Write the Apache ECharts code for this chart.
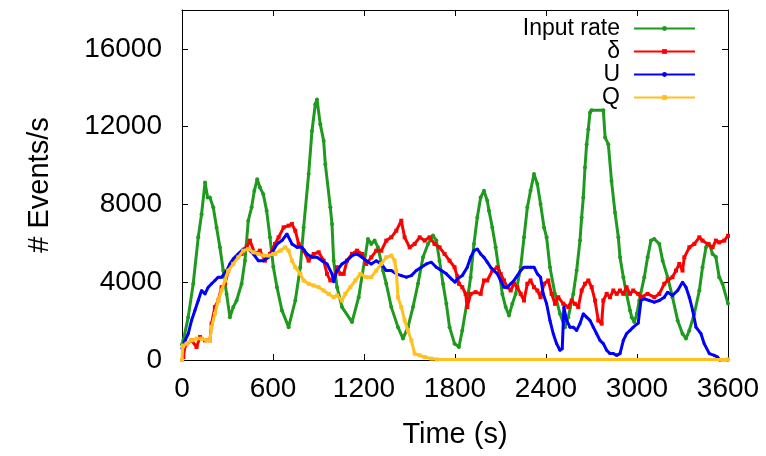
<!DOCTYPE html>
<html>
<head>
<meta charset="utf-8">
<script src="https://cdn.jsdelivr.net/npm/echarts@6/dist/echarts.min.js"></script>
<style>html,body{margin:0;padding:0;background:#fff}#c{width:766px;height:456px}</style>
</head>
<body>
<div id="c"></div>
<script>
// X axis ticks (time, s) and Y axis ticks (# events/s)
const xTicks = [0, 600, 1200, 1800, 2400, 3000, 3600];
const yTicks = [0, 4000, 8000, 12000, 16000];
const yMax = 18000;
const seriesNames = ['Input rate', 'δ', 'U', 'Q'];

// Input rate
const inputT = [0,9,41,74,107,129,152,169,184,206,228,250,272,294,316,338,360,393,415,437,459,477,496,514,536,558,580,602,626,659,703,747,780,802,835,857,879,890,912,934,945,978,989,1000,1022,1055,1121,1165,1226,1248,1270,1292,1325,1347,1380,1424,1457,1490,1523,1556,1589,1622,1655,1677,1698,1721,1743,1764,1797,1826,1848,1881,1903,1925,1947,1969,1991,2013,2024,2046,2068,2090,2112,2134,2156,2178,2200,2233,2255,2277,2298,2321,2343,2364,2387,2404,2426,2459,2492,2525,2547,2580,2602,2624,2635,2646,2657,2668,2679,2690,2700,2778,2790,2811,2832,2855,2877,2888,2910,2931,2954,2965,2982,3000,3015,3048,3070,3092,3114,3147,3169,3202,3234,3268,3300,3323,3345,3378,3411,3432,3455,3477,3498,3520,3542,3564,3600];
const inputV = [800,1010,2205,3920,6310,7500,9130,8360,8360,7850,6820,5795,4600,3400,2205,2720,3060,3920,5110,7165,7850,8700,9300,8870,8530,7680,6310,4800,3745,2550,1690,3060,4770,6820,9560,11780,13150,13400,12120,11270,10070,7850,6990,5110,3745,2720,1950,3230,6225,5970,6140,5795,4600,3920,2720,1690,1100,1690,2720,3920,5280,5970,6400,6140,5110,3920,2890,1690,840,670,1520,3060,4260,5970,7330,8360,8700,8190,7680,6820,5795,4600,3400,2720,2290,2890,3400,4770,6310,7850,8700,9560,9050,8020,6820,6310,4770,3400,2380,1690,2205,3400,4600,6140,7330,8360,9900,11100,11870,12720,12840,12840,11440,11100,9200,7590,6310,5280,4260,3400,2550,2200,1950,2400,3060,4260,5280,6140,6225,5970,5110,4260,3230,2035,1350,1100,1520,2380,3575,4770,5795,5970,5455,5300,4260,3920,2900];

// delta
const deltaT = [0,9,20,63,96,119,152,184,195,217,239,261,283,305,327,360,393,426,448,481,514,547,580,613,637,670,703,725,747,769,802,835,868,901,934,956,978,1000,1022,1044,1066,1088,1121,1154,1187,1215,1248,1281,1314,1347,1380,1413,1446,1468,1501,1534,1567,1600,1632,1665,1698,1731,1764,1797,1815,1826,1848,1870,1881,1903,1936,1969,1991,2013,2046,2079,2101,2123,2145,2167,2189,2211,2233,2255,2277,2298,2321,2343,2364,2387,2415,2437,2459,2481,2514,2547,2569,2591,2613,2635,2657,2679,2701,2723,2745,2767,2778,2800,2822,2844,2866,2888,2910,2931,2954,2975,3008,3026,3070,3114,3147,3180,3202,3234,3257,3279,3300,3312,3345,3378,3411,3432,3465,3498,3520,3542,3575,3600];
const deltaV = [0,150,750,1010,670,1180,1010,1010,1870,2720,3060,3745,3920,4600,4940,5280,5455,5795,6140,5455,5625,5110,5455,5970,6310,6820,6910,6990,6650,5970,5625,5110,5455,5540,5110,4430,4090,4090,4770,4430,4430,5110,5455,5625,5455,4940,5280,5625,5625,6140,6310,6650,7165,6310,5795,5970,6310,6140,6310,5970,5795,5455,5110,4770,4300,3920,3745,3400,2720,3400,3490,3400,4090,4090,4600,4770,4430,4090,3745,3575,3920,3745,3400,3060,3920,4090,3745,3575,3230,3920,4090,3400,2890,3230,2890,2720,3060,2890,2720,3575,3920,4090,3745,3060,2035,1870,3060,3400,3230,3575,3400,3575,3400,3745,3400,3575,3400,3230,3400,3230,3400,3920,4090,4260,4600,4940,4600,5280,5795,5970,6310,6140,5970,5795,6140,6050,6140,6390];

// U
const uT = [0,20,41,63,85,107,129,152,173,195,217,239,261,294,316,338,371,404,437,470,503,536,569,602,626,659,692,725,758,791,824,857,890,923,956,989,1000,1022,1055,1088,1121,1154,1187,1215,1248,1281,1314,1347,1380,1413,1446,1479,1512,1545,1578,1611,1644,1677,1710,1743,1776,1800,1815,1848,1881,1903,1925,1947,1969,1991,2013,2035,2057,2079,2101,2123,2145,2167,2189,2211,2233,2255,2277,2298,2321,2343,2364,2382,2404,2426,2448,2470,2492,2507,2518,2536,2558,2580,2602,2624,2646,2668,2690,2712,2734,2756,2778,2800,2822,2844,2866,2888,2910,2931,2954,2975,3008,3026,3048,3081,3114,3147,3180,3202,3234,3268,3300,3323,3345,3367,3389,3422,3443,3477,3509,3531,3545,3600];
const uV = [600,1000,1350,2035,2550,3060,3575,3400,3745,3920,4090,4260,4260,4600,4940,5200,5455,5710,5710,5455,5110,5110,5280,5625,5970,6140,6480,5970,5795,5795,5455,5280,5280,5110,4940,4430,4030,4600,4940,5110,5370,5455,5280,5110,4940,5110,4940,4600,4600,4430,4340,4260,4340,4600,4770,4940,5030,4770,4600,4430,4170,4000,4170,4340,4770,5280,5625,5710,5455,5280,5030,4770,4600,4430,4090,3745,3745,3920,4090,4340,4600,4770,4770,4770,4770,4430,4260,3400,2890,2035,1350,840,500,585,2720,2035,1690,1690,1520,1870,2380,2205,2035,1690,1350,1010,840,500,330,330,240,330,1010,1350,1520,1690,1900,3060,3150,3060,2975,3060,3230,3490,3320,3575,4000,3745,3230,2550,1690,1350,840,330,240,150,0,0];

// Q
const qT = [0,5,9,30,63,96,129,162,184,195,217,239,261,283,305,338,371,404,437,470,503,536,569,602,615,648,681,703,725,747,780,802,835,868,901,934,967,1000,1022,1055,1077,1110,1143,1176,1215,1248,1281,1314,1347,1380,1402,1413,1424,1446,1468,1490,1512,1534,1567,1600,1644,1680,3600];
const qV = [0,700,750,840,1010,1100,1100,1010,1010,1690,2380,3060,3575,4090,4600,4940,5280,5625,5710,5540,5455,5370,5370,5455,5455,5625,5795,5625,5110,4770,4430,4090,3920,3830,3745,3575,3400,3230,3320,3060,3400,3745,4090,4430,4260,4260,4600,4940,5280,5370,5110,4600,3230,2720,2035,1520,1010,330,240,150,70,30,30];

const zip = (t, v) => t.map((x, i) => [x, v[i]]);
const font = '"Liberation Sans", Arial, Helvetica, sans-serif';

const colors = ['#1f9a1f', '#ff0000', '#0000ff', '#ffc020'];
const symbols = ['circle', 'rect', 'circle', 'rect'];
const symSizes = [4, 4, 3, 4];
const datas = [zip(inputT, inputV), zip(deltaT, deltaV), zip(uT, uV), zip(qT, qV)];

const chart = echarts.init(document.getElementById('c'), null, {renderer: 'canvas'});
const axisCommon = {
  min: 0,
  axisLine: {show: true, onZero: false, lineStyle: {color: '#000', width: 1}},
  axisTick: {show: true, inside: true, length: 6, lineStyle: {color: '#000', width: 1}},
  splitLine: {show: false},
  minorTick: {show: false}
};
chart.setOption({
  animation: false,
  backgroundColor: '#fff',
  grid: {left: 182, right: 38, top: 10, bottom: 96, containLabel: false},
  legend: {
    orient: 'vertical', right: 70, top: 17, align: 'right',
    itemWidth: 61, itemHeight: 6, itemGap: 0, padding: 0,
    data: seriesNames,
    textStyle: {fontFamily: font, fontSize: 23, color: '#000', padding: [0, 9, 0, 0], lineHeight: 23},
    selectedMode: false
  },
  xAxis: [
    Object.assign({}, axisCommon, {
      type: 'value', position: 'bottom', max: xTicks[xTicks.length - 1], interval: xTicks[1] - xTicks[0],
      name: 'Time (s)', nameLocation: 'middle', nameGap: 60,
      nameTextStyle: {fontFamily: font, fontSize: 29, color: '#000'},
      axisLabel: {show: true, margin: 15, fontFamily: font, fontSize: 28, color: '#000', formatter: v => String(v)}
    }),
    Object.assign({}, axisCommon, {
      type: 'value', position: 'top', max: xTicks[xTicks.length - 1], interval: xTicks[1] - xTicks[0],
      axisLabel: {show: false}
    })
  ],
  yAxis: [
    Object.assign({}, axisCommon, {
      type: 'value', position: 'left', max: yMax, interval: yTicks[1] - yTicks[0],
      name: '# Events/s', nameLocation: 'middle', nameGap: 128,
      nameTextStyle: {fontFamily: font, fontSize: 29, color: '#000'},
      axisLabel: {show: true, margin: 20, fontFamily: font, fontSize: 28, color: '#000',
        formatter: v => (yTicks.indexOf(v) >= 0 ? String(v) : '')}
    }),
    Object.assign({}, axisCommon, {
      type: 'value', position: 'right', max: yMax, interval: yTicks[1] - yTicks[0],
      axisLabel: {show: false}
    })
  ],
  series: seriesNames.map((n, i) => ({
    name: n, type: 'line', xAxisIndex: 0, yAxisIndex: 0,
    data: datas[i],
    showSymbol: true, symbol: symbols[i], symbolSize: symSizes[i],
    color: colors[i],
    itemStyle: {color: colors[i]},
    lineStyle: {color: colors[i], width: 3},
    emphasis: {disabled: true},
    silent: true,
    clip: true,
    z: 2 + i
  }))
});
</script>
</body>
</html>
